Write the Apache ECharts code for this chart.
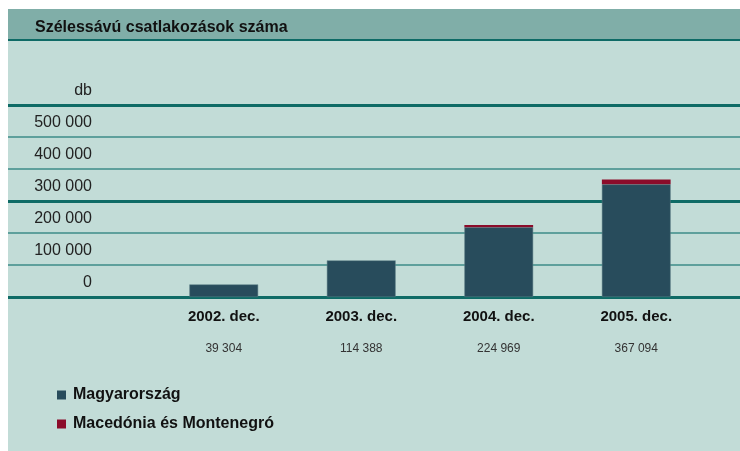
<!DOCTYPE html>
<html>
<head>
<meta charset="utf-8">
<script src="https://cdn.jsdelivr.net/npm/echarts@6/dist/echarts.min.js"></script>
<style>
  html, body { margin: 0; padding: 0; background: #fff; }
  #chart { width: 740px; height: 451px; }
</style>
</head>
<body>
<div id="chart"></div>
<script>
// adatok
var categories = ['2002. dec.', '2003. dec.', '2004. dec.', '2005. dec.'];
var totals = [39304, 114388, 224969, 367094];
var hungary = [39304, 114388, 217969, 352094];
var macedonia = [0, 0, 7000, 15000];
var yTicks = [0, 100000, 200000, 300000, 400000, 500000, 600000];

var FONT = '"Liberation Sans", Arial, sans-serif';

function fmt(v) {
  return String(v).replace(/\B(?=(\d{3})+(?!\d))/g, ' ');
}

var myChart = echarts.init(document.getElementById('chart'));
myChart.setOption({
  backgroundColor: '#ffffff',
  textStyle: { fontFamily: FONT },
  animation: false,
  graphic: [
    // panel hatter
    { type: 'rect', left: 8, top: 9, shape: { width: 732, height: 442 }, style: { fill: '#c2dcd7' }, z: -10 },
    // fejlec
    { type: 'rect', left: 8, top: 9, shape: { width: 732, height: 30 }, style: { fill: '#80aea8' }, z: -9 },
    { type: 'rect', left: 8, top: 39, shape: { width: 732, height: 2 }, style: { fill: '#0e6b66' }, z: -9 }
  ],
  title: {
    text: 'Szélessávú csatlakozások száma',
    left: 30,
    top: 15,
    textStyle: { fontFamily: FONT, fontSize: 16, fontWeight: 'bold', color: '#111' }
  },
  legend: {
    orient: 'vertical',
    left: 52,
    top: 382,
    itemGap: 13,
    icon: 'rect',
    itemWidth: 9,
    itemHeight: 9,
    itemStyle: { borderWidth: 0 },
    textStyle: { fontFamily: FONT, fontSize: 16, fontWeight: 'bold', color: '#111', padding: [0, 0, 0, 2] },
    data: ['Magyarország', 'Macedónia és Montenegró']
  },
  grid: [
    { left: 8, right: 0, top: 105, height: 192 },
    { left: 155, width: 550, top: 105, height: 192 }
  ],
  xAxis: [
    { gridIndex: 0, type: 'value', show: false, min: 0, max: 1 },
    {
      gridIndex: 1,
      type: 'category',
      data: categories,
      axisLine: { show: false },
      axisTick: { show: false },
      axisLabel: {
        margin: 10,
        formatter: function (v, i) {
          return '{a|' + v + '}\n{b|' + fmt(totals[i]) + '}';
        },
        rich: {
          a: { fontFamily: FONT, fontSize: 15, fontWeight: 'bold', color: '#111', lineHeight: 20 },
          b: { fontFamily: FONT, fontSize: 12, color: '#333', lineHeight: 44 }
        }
      }
    }
  ],
  yAxis: [
    {
      gridIndex: 0,
      type: 'value',
      min: yTicks[0],
      max: yTicks[yTicks.length - 1],
      interval: 100000,
      axisLine: { show: false },
      axisTick: { show: false },
      axisLabel: {
        inside: true,
        margin: 84,
        align: 'right',
        verticalAlign: 'bottom',
        padding: [0, 0, 6, 0],
        fontFamily: FONT,
        fontSize: 16,
        color: '#222',
        formatter: function (v) {
          return v === yTicks[yTicks.length - 1] ? 'db' : fmt(v);
        }
      },
      splitLine: { lineStyle: { color: '#3d8c88', width: 1.5 } }
    },
    {
      gridIndex: 0,
      type: 'value',
      min: 0,
      max: 600000,
      interval: 300000,
      z: 3,
      axisLine: { show: false },
      axisTick: { show: false },
      axisLabel: { show: false },
      splitLine: { lineStyle: { color: '#0e6b66', width: 3 } }
    },
    { gridIndex: 1, type: 'value', min: 0, max: 600000, show: false, splitLine: { show: false } }
  ],
  series: [
    {
      name: 'Magyarország',
      type: 'bar',
      stack: 'total',
      xAxisIndex: 1,
      yAxisIndex: 2,
      barWidth: '50%',
      z: 4,
      itemStyle: { color: '#284c5c', borderColor: '#5f8088', borderWidth: 0.5 },
      data: hungary
    },
    {
      name: 'Macedónia és Montenegró',
      type: 'bar',
      stack: 'total',
      xAxisIndex: 1,
      yAxisIndex: 2,
      barWidth: '50%',
      z: 4,
      itemStyle: { color: '#8b0c2a' },
      data: macedonia
    }
  ]
});
</script>
</body>
</html>
